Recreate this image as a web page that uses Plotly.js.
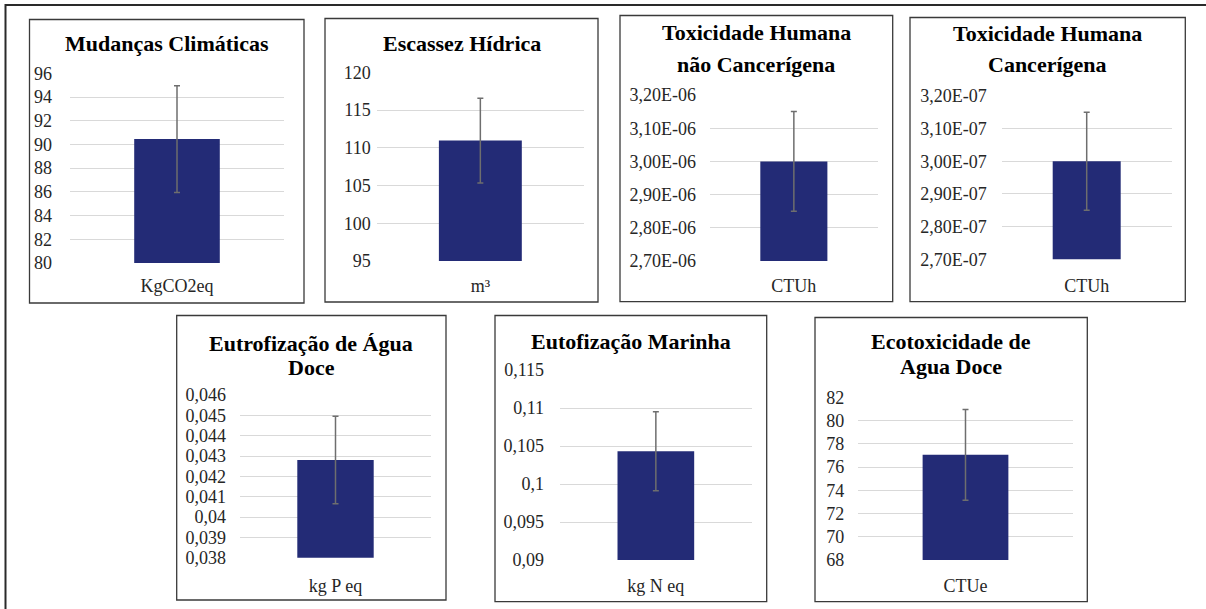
<!DOCTYPE html>
<html>
<head>
<meta charset="utf-8">
<script src="https://cdn.plot.ly/plotly-3.0.1.min.js"></script>
<style>html,body{margin:0;padding:0;background:#fff;}#chart{width:1206px;height:609px;}#chart text{font-family:"Liberation Serif" !important;}</style>
</head>
<body>
<div id="chart"></div>
<script>
// ---------- DATA ----------
const categories = ['KgCO2eq', 'm³', 'CTUh', 'CTUh', 'kg P eq', 'kg N eq', 'CTUe'];
const titleLines = [
  ['Mudanças Climáticas'],
  ['Escassez Hídrica'],
  ['Toxicidade Humana', 'não Cancerígena'],
  ['Toxicidade Humana', 'Cancerígena'],
  ['Eutrofização de Água', 'Doce'],
  ['Eutofização Marinha'],
  ['Ecotoxicidade de', 'Agua Doce']
];
const means  = [90.45, 110.95, 3.00e-6, 3.00e-7, 0.0428, 0.1043, 77.05];
const errors = [4.5, 5.6, 0.15e-6, 0.15e-7, 0.00215, 0.0052, 3.9];
const yTickVals = [
  [80, 82, 84, 86, 88, 90, 92, 94, 96],
  [95, 100, 105, 110, 115, 120],
  [2.7e-6, 2.8e-6, 2.9e-6, 3.0e-6, 3.1e-6, 3.2e-6],
  [2.7e-7, 2.8e-7, 2.9e-7, 3.0e-7, 3.1e-7, 3.2e-7],
  [0.038, 0.039, 0.040, 0.041, 0.042, 0.043, 0.044, 0.045, 0.046],
  [0.090, 0.095, 0.100, 0.105, 0.110, 0.115],
  [68, 70, 72, 74, 76, 78, 80, 82]
];
const yTickText = [
  ['80', '82', '84', '86', '88', '90', '92', '94', '96'],
  ['95', '100', '105', '110', '115', '120'],
  ['2,70E-06', '2,80E-06', '2,90E-06', '3,00E-06', '3,10E-06', '3,20E-06'],
  ['2,70E-07', '2,80E-07', '2,90E-07', '3,00E-07', '3,10E-07', '3,20E-07'],
  ['0,038', '0,039', '0,04', '0,041', '0,042', '0,043', '0,044', '0,045', '0,046'],
  ['0,09', '0,095', '0,1', '0,105', '0,11', '0,115'],
  ['68', '70', '72', '74', '76', '78', '80', '82']
];

// ---------- LAYOUT (pixels) ----------
const W = 1206, H = 609;
// plot areas: [x0, x1, yTop, yBottom]
const plotAreas = [
  [70, 284, 73.3, 263],
  [376.7, 584, 72.3, 261],
  [710, 877.7, 95, 261],
  [1001.7, 1171.7, 96, 259.3],
  [240, 431, 395, 557.7],
  [560, 751.7, 370, 560],
  [858.3, 1072.7, 397.3, 560]
];
// panel frames: [x0, x1, yTop, yBottom]
const frames = [
  [29.5, 304, 19.5, 303],
  [325, 598, 18.5, 302],
  [620, 892.7, 15.5, 301.7],
  [910, 1185.3, 17.5, 301.7],
  [176.7, 446, 315.5, 600],
  [495, 766.7, 315.5, 601.7],
  [815, 1087.3, 317.5, 601.7]
];
// title line centres (y px) per panel
const titleY = [[43], [43], [32, 65], [33, 65], [343, 367], [341.7], [341.7, 366.7]];
const yStandoff = [17, 5, 13, 14, 13, 15, 13];
const xStandoff = [10, 12, 12, 14, 15, 13, 13];

const px = v => v / W;
const py = v => 1 - v / H;
const fontFam = 'Liberation Serif';

const traces = [];
const layout = {
  width: W, height: H,
  margin: {l: 0, r: 0, t: 0, b: 0},
  paper_bgcolor: '#ffffff', plot_bgcolor: '#ffffff',
  showlegend: false,
  font: {family: fontFam},
  shapes: [], annotations: []
};

for (let i = 0; i < 7; i++) {
  const n = i + 1;
  const xa = n === 1 ? 'x' : 'x' + n;
  const ya = n === 1 ? 'y' : 'y' + n;
  const pa = plotAreas[i];
  const tv = yTickVals[i];
  traces.push({
    type: 'bar',
    x: [categories[i]],
    y: [means[i]],
    xaxis: xa, yaxis: ya,
    width: 0.4,
    marker: {color: '#232b76', line: {width: 0}},
    error_y: {type: 'data', array: [errors[i]], visible: true, color: '#6e6e6e', thickness: 1.5, width: 3},
    hoverinfo: 'none'
  });
  layout['xaxis' + (n === 1 ? '' : n)] = {
    domain: [px(pa[0]), px(pa[1])],
    anchor: ya,
    type: 'category',
    range: [-0.5, 0.5],
    showgrid: false, zeroline: false, showline: false,
    ticks: '', ticklabelstandoff: xStandoff[i],
    tickfont: {family: fontFam, size: 18, color: '#262626'},
    fixedrange: true
  };
  layout['yaxis' + (n === 1 ? '' : n)] = {
    domain: [py(pa[3]), py(pa[2])],
    anchor: xa,
    range: [tv[0], tv[tv.length - 1]],
    tickmode: 'array', tickvals: tv, ticktext: yTickText[i],
    showgrid: true, gridcolor: '#d9d9d9', gridwidth: 1,
    zeroline: false, showline: false,
    ticks: '', ticklabelstandoff: yStandoff[i],
    tickfont: {family: fontFam, size: 18, color: '#262626'},
    fixedrange: true
  };
  const fr = frames[i];
  layout.shapes.push({
    type: 'rect', xref: 'paper', yref: 'paper',
    x0: px(fr[0]), x1: px(fr[1]), y0: py(fr[3]), y1: py(fr[2]),
    line: {color: '#3a3a3a', width: 1.3}, fillcolor: 'rgba(0,0,0,0)', layer: 'above'
  });
  const cx = (fr[0] + fr[1]) / 2;
  titleLines[i].forEach((t, k) => {
    layout.annotations.push({
      xref: 'paper', yref: 'paper', x: px(cx), y: py(titleY[i][k]),
      xanchor: 'center', yanchor: 'middle', showarrow: false,
      text: '<b>' + t + '</b>',
      font: {family: fontFam, size: 22, color: '#000000'}
    });
  });
}
// outer frame (left and top edges)
layout.shapes.push({
  type: 'path', xref: 'paper', yref: 'paper',
  path: `M ${px(5.5)} ${py(609)} L ${px(5.5)} ${py(5)} L ${px(1206)} ${py(5)}`,
  line: {color: '#2a2a2a', width: 2}
});

Plotly.newPlot('chart', traces, layout, {displayModeBar: false}).then(function () {
  document.querySelectorAll('#chart text').forEach(function (t) {
    t.style.setProperty('font-family', '"Liberation Serif"', 'important');
  });
});
</script>
</body>
</html>
